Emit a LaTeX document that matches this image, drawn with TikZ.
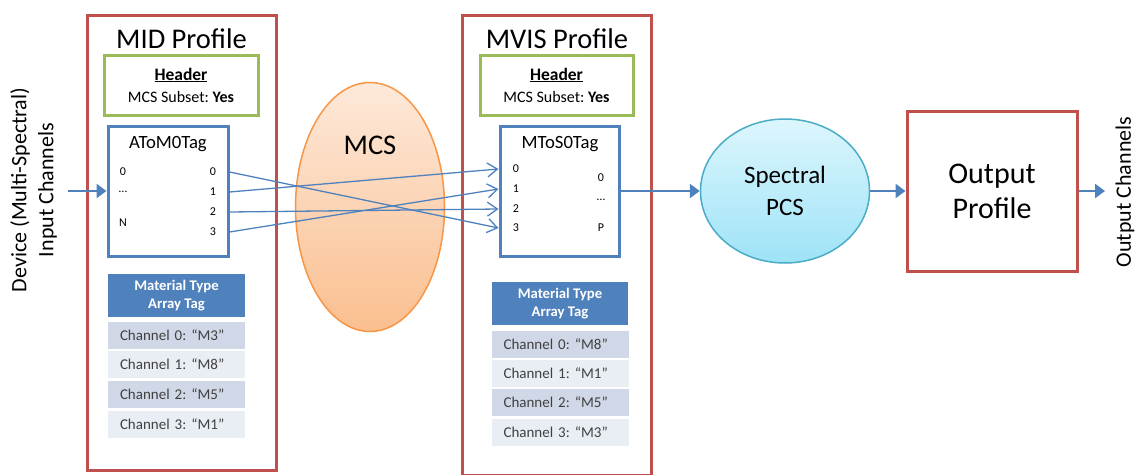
\documentclass[tikz,border=0pt]{standalone}
\usepackage{fontspec}
\setmainfont{Carlito}
\usetikzlibrary{shapes.geometric,arrows.meta}
\definecolor{profred}{HTML}{C0504D}
\definecolor{hdrgreen}{HTML}{9BBB59}
\definecolor{tagblue}{HTML}{4F81BD}
\definecolor{rowdark}{HTML}{D0D8E8}
\definecolor{rowlight}{HTML}{E9EDF4}
\definecolor{mcsline}{HTML}{F79646}
\definecolor{mcstop}{HTML}{FDE9DA}
\definecolor{mcsbot}{HTML}{FABF8F}
\definecolor{pcsline}{HTML}{4BACC6}
\definecolor{pcstop}{HTML}{DDF6FD}
\definecolor{pcsbot}{HTML}{9EE3F7}
\definecolor{txtgray}{HTML}{404040}
\frenchspacing
\newcommand{\port}[3]{\node(#1)[port] at (#2) {#3}}
\newcommand{\chanrow}[4]{\node(#1)[chanrow,fill=#2] at (#3) {Channel #4}}
\newcommand{\hdrtext}{{\fontsize{17.5}{22}\selectfont\underline{\textbf{Header}}}\\MCS Subset: \textbf{Yes}}

\begin{document}
\begin{tikzpicture}[
        x=1pt, y=-1pt,
        profile/.style={rectangle,draw=profred,line width=3pt,inner sep=0pt},
        title/.style={font=\fontsize{28.5}{34}\selectfont},
        header/.style={rectangle,draw=hdrgreen,line width=3pt,minimum width=154pt,
                       minimum height=60pt,align=center,inner sep=0pt,
                       font=\fontsize{16}{22}\selectfont},
        tagbox/.style={rectangle,draw=tagblue,line width=3pt,minimum width=120pt,
                       minimum height=130pt,inner sep=0pt},
        tagname/.style={font=\fontsize{18.7}{22}\selectfont},
        port/.style={font=\fontsize{12}{14}\selectfont,inner sep=0pt},
        mathdr/.style={rectangle,fill=tagblue,text=white,minimum width=137pt,
                       minimum height=43pt,align=center,inner sep=0pt,
                       font=\bfseries\fontsize{14.7}{18}\selectfont},
        chanrow/.style={rectangle,minimum height=27pt,text width=113pt,inner xsep=12pt,
                        inner ysep=0pt,align=left,text=txtgray,
                        font=\fontsize{15}{18}\selectfont},
        mcs/.style={ellipse,draw=mcsline,line width=1.5pt,top color=mcstop,
                    bottom color=mcsbot,minimum width=149pt,minimum height=249pt,inner sep=0pt},
        pcs/.style={ellipse,draw=pcsline,line width=1.5pt,top color=pcstop,
                    bottom color=pcsbot,minimum width=169pt,minimum height=144pt,
                    align=center,inner sep=0pt,font=\fontsize{25}{32}\selectfont},
        flow/.style={draw=tagblue,line width=2.5pt,-{Triangle[length=10pt,width=14pt]}},
        link/.style={draw=tagblue,line width=1.3pt,-{Straight Barb[length=10pt,width=14pt]}},
        side/.style={rotate=90,align=center,font=\fontsize{22}{27}\selectfont}
      ]
      \useasboundingbox (0,0) rectangle (1138,474);

      % Device input side
      \node(devlabel)[side] at (33.5,190) {Device (Multi-Spectral)\\Input Channels};
      \coordinate (devin) at (68,191);

      % MID profile: header, AToM0Tag and material table
      \node(mid)[profile,minimum width=189pt,minimum height=455pt] at (181.5,242.5) {};
      \node(midtitle)[title] at (181.5,39) {MID Profile};
      \node(midhdr)[header] at (181,85) {\hdrtext};
      \node(atag)[tagbox] at (168,191) {};
      \node(atagname)[tagname] at (168,144) {AToM0Tag};
      \port{ai0}{123,172}{0}; \port{aidots}{123,192}{…}; \port{aiN}{123,223}{N};
      \port{ao0}{213,172}{0}; \port{ao1}{213,192}{1}; \port{ao2}{213,212}{2}; \port{ao3}{213,232}{3};
      \node(midmat)[mathdr] at (176.5,295.5) {Material Type\\Array Tag};
      \chanrow{midch0}{rowdark}{176.5,335}{0: “M3”};
      \chanrow{midch1}{rowlight}{176.5,364.5}{1: “M8”};
      \chanrow{midch2}{rowdark}{176.5,394.5}{2: “M5”};
      \chanrow{midch3}{rowlight}{176.5,424}{3: “M1”};

      % MCS in the middle
      \node(mcs)[mcs] at (370,207) {};
      \node(mcsname)[title] at (370,145) {MCS};

      % MVIS profile: header, MToS0Tag and material table
      \node(mvis)[profile,minimum width=189pt,minimum height=460.5pt] at (556.5,245.25) {};
      \node(mvistitle)[title] at (557,39) {MVIS Profile};
      \node(mvishdr)[header,minimum width=153pt] at (556.5,85) {\hdrtext};
      \node(mtag)[tagbox,minimum width=119pt] at (559.5,191) {};
      \node(mtagname)[tagname] at (560,144) {MToS0Tag};
      \port{mi0}{516,169}{0}; \port{mi1}{516,189}{1}; \port{mi2}{516,209}{2}; \port{mi3}{516,228}{3};
      \port{mo0}{601,178}{0}; \port{modots}{601,200}{…}; \port{moP}{601,228}{P};
      \node(mvismat)[mathdr,minimum width=136pt] at (560,303.5) {Material Type\\Array Tag};
      \chanrow{mvisch0}{rowdark}{560,344}{0: “M8”};
      \chanrow{mvisch1}{rowlight}{560,373}{1: “M1”};
      \chanrow{mvisch2}{rowdark}{560,402}{2: “M5”};
      \chanrow{mvisch3}{rowlight}{560,432}{3: “M3”};

      % Spectral PCS and output profile
      \node(pcs)[pcs] at (785,191) {Spectral\\PCS};
      \node(outp)[profile,minimum width=170pt,minimum height=160pt,align=center,
                  font=\fontsize{30}{35}\selectfont] at (992,191) {Output\\Profile};
      \coordinate (devout) at (1105,191);
      \node(outlabel)[side] at (1125,192) {Output Channels};

      % Channel links through the MCS
      \draw[link] (ao0 -| atag.east) -- (mi3 -| mtag.west);
      \draw[link] (ao1 -| atag.east) -- (mi0 -| mtag.west);
      \draw[link] (ao2 -| atag.east) -- (mi2 -| mtag.west);
      \draw[link] (ao3 -| atag.east) -- (mi1 -| mtag.west);

      % Main flow
      \draw[flow] (devin) -- (atag.west);
      \draw[flow] (mtag.east) -- (pcs.west);
      \draw[flow] (pcs.east) -- (outp.west);
      \draw[flow] (outp.east) -- (devout);
    \end{tikzpicture}
\end{document}
